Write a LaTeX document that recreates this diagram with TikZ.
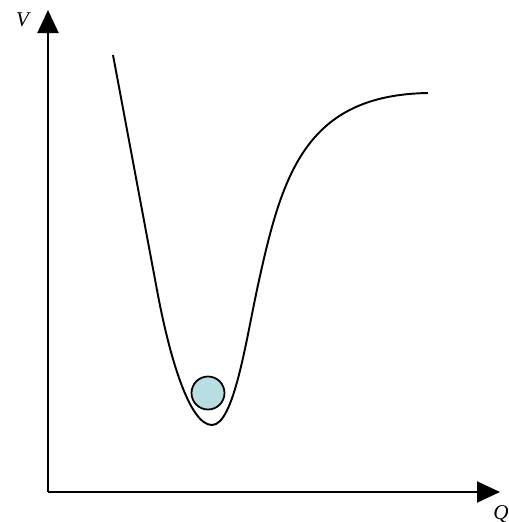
\documentclass[tikz,border=0pt]{standalone}
\usepackage{fontspec}
\setmainfont{Liberation Serif}
\usetikzlibrary{positioning,arrows.meta}
\definecolor{ballblue}{RGB}{184,222,226}

\begin{document}
\begin{tikzpicture}[x=0.02cm, y=-0.02cm, >={Triangle[length=0.46cm, width=0.42cm]}, every node/.style={font=\large\itshape}]
  \useasboundingbox (0,0) rectangle (509,522);
  \coordinate (o) at (48,492);
  \coordinate (vtip) at (48,10);
  \coordinate (qtip) at (500,492);
  \draw[->, line width=1.2pt] (o) -- (vtip);
  \draw[->, line width=1.2pt] (o) -- (qtip);
  \node[anchor=east, inner sep=1pt] (vlabel) at (31,20) {V};
  \node[anchor=north east, inner sep=0pt] (qlabel) at (509,505) {Q};
  % potential well
  \coordinate (wtop) at (113,55);
  \coordinate (wbot) at (212,425);
  \coordinate (wend) at (428,93);
  \draw[line width=1.1pt] (wtop) -- (157,290) .. controls (170,360) and (190,425) .. (wbot)
    .. controls (234,425) and (246,340) .. (258,285)
    .. controls (282,175) and (305,95) .. (wend);
  \node[circle, draw, line width=1pt, fill=ballblue, minimum size=0.66cm, inner sep=0pt] (ball) at (208,393) {};
\end{tikzpicture}
\end{document}
